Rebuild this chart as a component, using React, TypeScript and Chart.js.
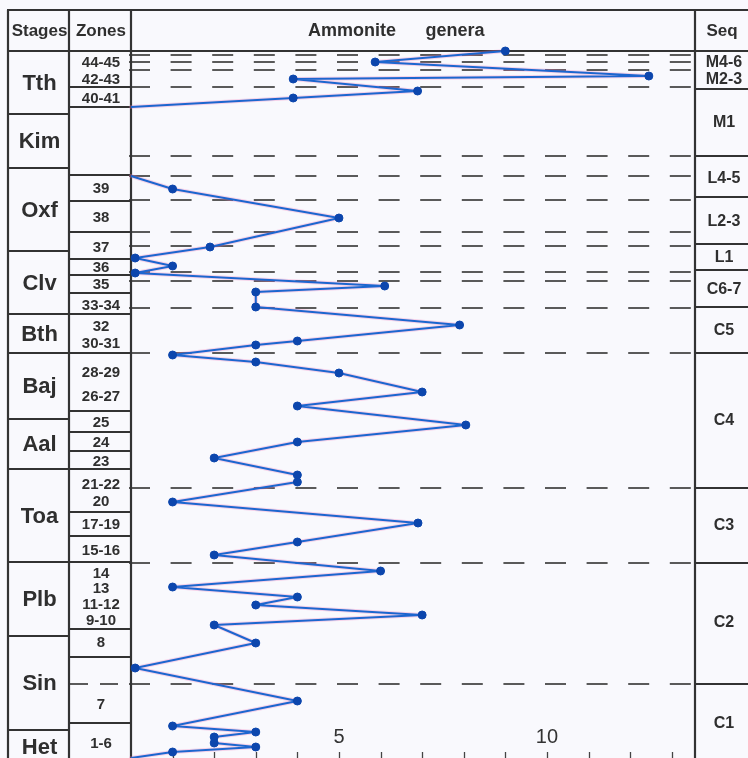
import React, { useEffect, useRef } from 'react';
import { Chart, registerables } from 'chart.js';

Chart.register(...registerables);

// Vertical position in the column (level units, 0 = bottom of the visible column)
const sampleLevels: (number | null)[] = [
  70.7, 69.6, 68.2, 67.9, 66.7, 66.0, 65.1, null,
  58.2, 56.9, 54.0, 51.1, 50.0, 49.2, 48.5, 47.2, 46.6, 45.1, 43.3, 41.7,
  41.3, 40.3, 39.6, 38.5, 36.6, 35.2, 33.3, 31.6, 30.0, 28.3, 27.6, 25.6,
  23.5, 21.6, 20.3, 18.7, 17.1, 16.1, 15.3, 14.3, 13.3, 11.5, 9.0, 5.7,
  3.2, 2.6, 2.1, 1.5, 1.1, 0.6, 0.0,
];
// Number of ammonite genera at each level
const generaCounts: (number | null)[] = [
  9, 5.87, 12.45, 3.9, 6.89, 3.9, 0, null,
  0, 1, 5, 1.9, 0.1, 1, 0.1, 6.1, 3, 3, 7.9, 4,
  3, 1, 3, 5, 7, 4, 8.05, 4, 2, 4, 4, 1,
  6.9, 4, 2, 6, 1, 4, 3, 7, 2, 3, 0.1, 4,
  1, 3, 2, 2, 3, 1, 0,
];
// line ends without a marker
const openEnds = [6, 8, 50];

const stageNames = ['Tth', 'Kim', 'Oxf', 'Clv', 'Bth', 'Baj', 'Aal', 'Toa', 'Plb', 'Sin', 'Het'];
const stageBounds = [70.7, 64.4, 59.0, 50.7, 44.4, 40.5, 33.9, 28.9, 19.6, 12.2, 2.8, -0.6];

const zoneBounds = [70.7, 67.1, 65.1, 58.3, 55.7, 52.6, 49.9, 48.3, 46.5, 44.4, 40.5, 34.7, 32.6, 30.7, 28.9, 24.6, 22.2, 19.6, 12.9, 10.1, 3.5, -0.6];
const zoneLabels = ['44-45', '42-43', '40-41', '39', '38', '37', '36', '35', '33-34', '32', '30-31', '28-29', '26-27', '25', '24', '23', '21-22', '20', '17-19', '15-16', '14', '13', '11-12', '9-10', '8', '7', '1-6'];
const zoneLabelLevels = [69.6, 67.9, 66.0, 57.0, 54.1, 51.1, 49.1, 47.4, 45.3, 43.2, 41.5, 38.6, 36.2, 33.6, 31.6, 29.7, 27.4, 25.7, 23.4, 20.8, 18.5, 17.0, 15.4, 13.8, 11.6, 5.4, 1.5];

const seqBounds = [70.7, 66.9, 60.2, 56.1, 51.4, 48.8, 45.1, 40.5, 27.0, 19.5, 7.4, -0.6];
const seqLabels = ['M4-6', 'M2-3', 'M1', 'L4-5', 'L2-3', 'L1', 'C6-7', 'C5', 'C4', 'C3', 'C2', 'C1'];
const seqLabelLevels = [69.6, 67.9, 63.6, 58.0, 53.7, 50.1, 46.9, 42.8, 33.8, 23.3, 13.6, 3.5];

const dashedLevels = [70.3, 69.6, 68.8, 67.1, 60.2, 58.2, 55.8, 52.6, 51.2, 48.6, 47.7, 45.0, 40.5, 27.0, 19.5, 7.4];
const zoneDashedLevels = [7.4];

const xTickValues = [1, 2, 3, 4, 5, 6, 7, 8, 9, 10, 11, 12, 13];
const xTickLabels = [5, 10];

const W = 748;
const H = 758;
const INK = '#2f2f2f';
const FONT = '"Liberation Sans", Arial, Helvetica, sans-serif';

export default function App() {
  const ref = useRef<HTMLCanvasElement>(null);

  useEffect(() => {
    const canvas = ref.current!;
    const points = sampleLevels.map((lv, i) => ({ x: generaCounts[i], y: lv }));

    const tablePlugin = {
      id: 'stratTable',
      beforeDraw(chart: any) {
        const ctx = chart.ctx;
        ctx.save();
        ctx.fillStyle = '#f9f9fd';
        ctx.fillRect(0, 0, chart.width, chart.height);
        ctx.restore();
      },
      beforeDatasetsDraw(chart: any) {
        const ctx: CanvasRenderingContext2D = chart.ctx;
        const { left, right, top, bottom } = chart.chartArea;
        const ys = chart.scales.y;
        const xs = chart.scales.x;
        const yp = (v: number) => ys.getPixelForValue(v);
        const tableLeft = 8;
        const zoneLeft = 69;
        const headTop = 10;
        const farRight = W + 10;
        const bottomEdge = H + 10;

        ctx.save();
        // dashed horizon lines
        ctx.strokeStyle = '#5a5a5a';
        ctx.lineWidth = 1.8;
        ctx.setLineDash([21, 20.6]);
        dashedLevels.forEach((lv) => {
          const y = Math.round(yp(lv));
          ctx.beginPath();
          ctx.moveTo(left - 2, y);
          ctx.lineTo(right, y);
          ctx.stroke();
        });
        ctx.setLineDash([18, 12]);
        zoneDashedLevels.forEach((lv) => {
          const y = Math.round(yp(lv));
          ctx.beginPath();
          ctx.moveTo(zoneLeft + 1, y);
          ctx.lineTo(left, y);
          ctx.stroke();
        });
        ctx.setLineDash([]);

        // table frame
        ctx.strokeStyle = '#333';
        ctx.lineWidth = 2.2;
        const hline = (x1: number, x2: number, y: number) => {
          ctx.beginPath();
          ctx.moveTo(x1, y);
          ctx.lineTo(x2, y);
          ctx.stroke();
        };
        const vline = (x: number, y1: number, y2: number) => {
          ctx.beginPath();
          ctx.moveTo(x, y1);
          ctx.lineTo(x, y2);
          ctx.stroke();
        };
        hline(tableLeft - 1, farRight, headTop);
        hline(tableLeft - 1, farRight, top);
        vline(tableLeft, headTop, bottomEdge);
        vline(zoneLeft, headTop, bottomEdge);
        vline(left, headTop, bottomEdge);
        vline(right, headTop, bottomEdge);

        stageBounds.slice(1, -1).forEach((lv) => hline(tableLeft, zoneLeft, Math.round(yp(lv))));
        zoneBounds.slice(1, -1).forEach((lv) => hline(zoneLeft, left, Math.round(yp(lv))));
        seqBounds.slice(1, -1).forEach((lv) => hline(right, farRight, Math.round(yp(lv))));

        // texts
        ctx.fillStyle = INK;
        ctx.textAlign = 'center';
        ctx.textBaseline = 'middle';
        const headY = (headTop + top) / 2 + 1;
        ctx.font = `bold 17px ${FONT}`;
        ctx.fillText('Stages', (tableLeft + zoneLeft) / 2 + 1, headY);
        ctx.fillText('Zones', (zoneLeft + left) / 2 + 1, headY);
        ctx.fillText('Seq', right + 27, headY);
        ctx.font = `bold 18px ${FONT}`;
        ctx.fillText('Ammonite', left + 221, headY);
        ctx.fillText('genera', left + 324, headY);

        ctx.font = `bold 22px ${FONT}`;
        stageNames.forEach((name, i) => {
          const y = (yp(stageBounds[i]) + yp(stageBounds[i + 1])) / 2 + 1;
          ctx.fillText(name, (tableLeft + zoneLeft) / 2 + 1, y);
        });

        ctx.font = `bold 15px ${FONT}`;
        zoneLabels.forEach((name, i) => {
          ctx.fillText(name, (zoneLeft + left) / 2 + 1, yp(zoneLabelLevels[i]) + 1);
        });

        ctx.font = `bold 16px ${FONT}`;
        seqLabels.forEach((name, i) => {
          ctx.fillText(name, right + 29, yp(seqLabelLevels[i]) + 1);
        });

        // x ticks (drawn inside the plot at the bottom)
        ctx.strokeStyle = '#444';
        ctx.lineWidth = 1.3;
        xTickValues.forEach((v) => {
          const x = Math.round(xs.getPixelForValue(v)) + 0.5;
          vline(x, bottom - 6, bottom);
        });
        ctx.fillStyle = '#333';
        ctx.font = `20px ${FONT}`;
        xTickLabels.forEach((v) => {
          ctx.fillText(String(v), xs.getPixelForValue(v), bottom - 21);
        });
        ctx.restore();
      },
    };

    const chart = new Chart(canvas, {
      type: 'line',
      data: {
        datasets: [
          {
            data: points as any,
            borderColor: '#1c66cf',
            borderWidth: 2,
            borderJoinStyle: 'round',
            pointRadius: (c: any) => (openEnds.includes(c.dataIndex) ? 0 : 4),
            pointBackgroundColor: '#0c46ad',
            pointBorderColor: '#0c46ad',
            pointBorderWidth: 1,
            fill: false,
            tension: 0,
            clip: false as any,
            spanGaps: false,
            order: 0,
          },
          {
            data: points as any,
            borderColor: 'rgba(238,120,185,0.3)',
            borderWidth: 4,
            borderJoinStyle: 'round',
            borderCapStyle: 'round',
            pointRadius: 0,
            fill: false,
            tension: 0,
            clip: false as any,
            spanGaps: false,
            order: 1,
          },
        ],
      },
      options: {
        animation: false,
        responsive: false,
        devicePixelRatio: 1,
        events: [],
        layout: { autoPadding: false, padding: { left: 131, right: W - 695, top: 51, bottom: 0 } },
        scales: {
          x: { type: 'linear', min: 0, max: 13.56, display: false },
          y: { type: 'linear', min: 0, max: 70.7, display: false },
        },
        plugins: { legend: { display: false }, tooltip: { enabled: false }, title: { display: false } },
      },
      plugins: [tablePlugin],
    });
    return () => chart.destroy();
  }, []);

  return (
    <div style={{ position: 'absolute', left: 0, top: 0, width: W, height: H, overflow: 'hidden' }}>
      <canvas ref={ref} width={W} height={H} style={{ display: 'block', width: W, height: H }} />
    </div>
  );
}
